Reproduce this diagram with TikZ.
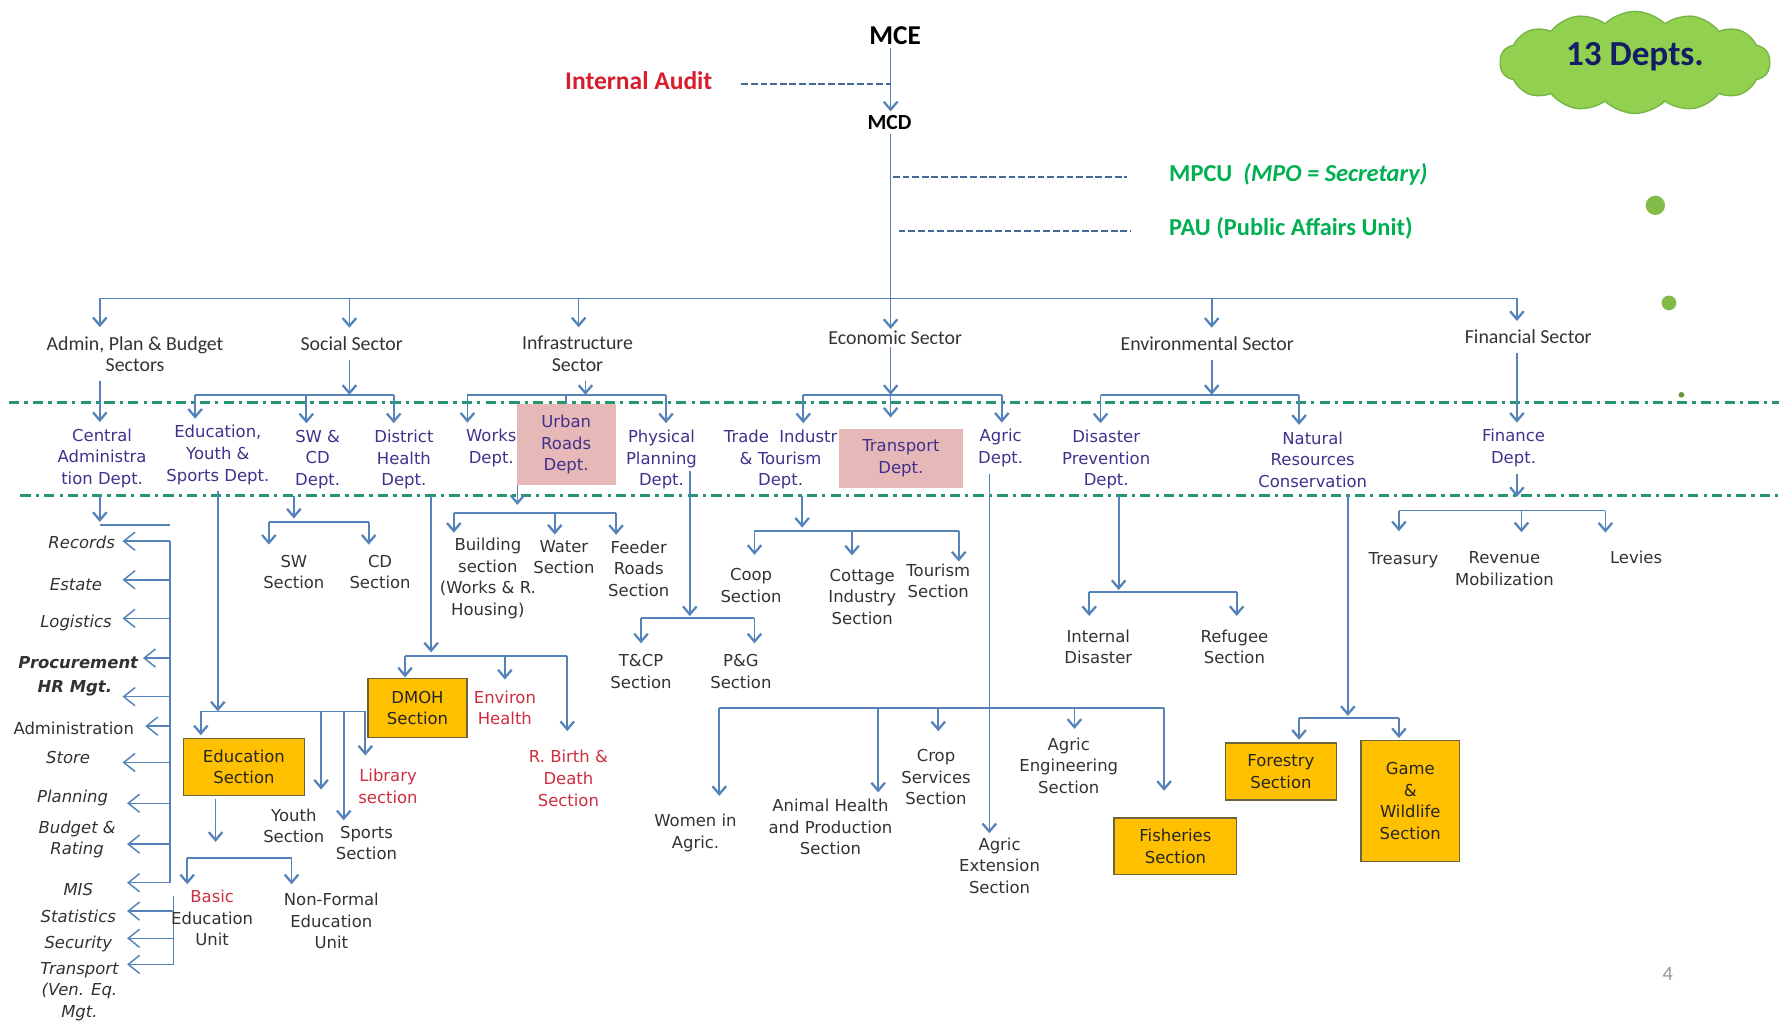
\documentclass[tikz,border=0pt]{standalone}
\usepackage{fontspec}
\setmainfont{Carlito}
\newfontfamily\lblfont{DejaVu Sans}
\usetikzlibrary{arrows.meta,shapes.symbols}
\definecolor{lineblue}{RGB}{84,130,185}
\definecolor{dashblue}{RGB}{70,105,150}
\definecolor{deptblue}{RGB}{64,49,140}
\definecolor{labelgray}{RGB}{50,50,50}
\definecolor{secred}{RGB}{205,45,65}
\definecolor{auditred}{RGB}{215,30,45}
\definecolor{mgreen}{RGB}{0,176,80}
\definecolor{sepgreen}{RGB}{38,150,110}
\definecolor{boxyellow}{RGB}{255,192,0}
\definecolor{boxedge}{RGB}{110,100,60}
\definecolor{boxpink}{RGB}{230,184,183}
\definecolor{cloudgreen}{RGB}{146,208,80}
\definecolor{cloudedge}{RGB}{120,180,70}
\definecolor{navy}{RGB}{20,30,100}
\newcommand\smallsz{\lblfont\fontsize{14.5}{19}\selectfont}
\tikzset{
  conn/.style={draw=lineblue,line width=1.5pt},
  arr/.style={conn,-{Straight Barb[length=7pt,width=12pt,line width=2pt]}},
  barb/.style={conn,line width=1.3pt,-{Straight Barb[length=10pt,width=16pt]}},
  lbl/.style={font=\smallsz,text=labelgray,align=center,inner sep=0pt,outer sep=5pt},
  dept/.style={lbl,text=deptblue,outer sep=6pt},
  redlbl/.style={lbl,text=secred},
  lst/.style={lbl,font=\smallsz\itshape},
  ybox/.style={lbl,fill=boxyellow,draw=boxedge,line width=1.2pt,text=black!85},
  pbox/.style={dept,fill=boxpink},
  sector/.style={font=\fontsize{17.5}{19}\selectfont,text=black!80,align=center,inner sep=0pt,outer sep=8pt},
  sepline/.style={draw=sepgreen,line width=2.6pt,dash pattern=on 9pt off 4.5pt on 3pt off 4.5pt},
  dashln/.style={draw=dashblue,line width=1.8pt,dash pattern=on 6pt off 2.5pt},
}
\begin{document}
\begin{tikzpicture}[x=1pt,y=-1pt]
\useasboundingbox (0,0) rectangle (1568,902);
% separators
\draw[sepline] (8,355) -- (1568,355);
\draw[sepline] (18,437) -- (1568,437);

% top of the chart
\node[font=\bfseries\fontsize{24}{24}\selectfont] (mce) at (789,31) {MCE};
\node[font=\bfseries\fontsize{19}{19}\selectfont] (mcd) at (784,108) {MCD};
\node[font=\bfseries\fontsize{22.5}{22}\selectfont,text=auditred] (audit) at (563,71) {Internal Audit};
\node[font=\bfseries\fontsize{21.5}{21}\selectfont,text=mgreen,anchor=west] (mpcu) at (1027,154) {MPCU\ \ \textit{(MPO = Secretary)}};
\node[font=\bfseries\fontsize{21.5}{21}\selectfont,text=mgreen,anchor=west] (pau) at (1027,201) {PAU (Public Affairs Unit)};
\draw[arr] (785,0 |- mce.south) -- (785,0 |- mcd.north);
\draw[dashln] ([xshift=22pt,yshift=-3pt]audit.east) -- (785,74);
\draw[dashln] (787,156) -- ([xshift=-34pt,yshift=-2pt]mpcu.west);
\draw[dashln] (792,204) -- ([xshift=-30pt,yshift=-3pt]pau.west);

\node[cloud,cloud puffs=14,cloud puff arc=90,aspect=2.7,minimum width=238pt,minimum height=90pt,fill=cloudgreen,draw=cloudedge,line width=1.2pt,font=\bfseries\fontsize{31}{31}\selectfont,text=navy] (depts) at (1441,55) {\raisebox{14pt}{13 Depts.}};
\node[circle,fill=cloudgreen!90!black,minimum size=17pt,inner sep=0pt] (dotA) at (1459,181) {};
\node[circle,fill=cloudgreen!90!black,minimum size=13pt,inner sep=0pt] (dotB) at (1471,267) {};
\node[circle,fill=cloudgreen!70!black,minimum size=5pt,inner sep=0pt] (dotC) at (1482,348) {};
\node[font=\fontsize{18}{18}\selectfont,text=black!40] (pgno) at (1470,858) {4};

% sectors
\node[sector] (adm) at (119,312) {Admin, Plan \& Budget\\Sectors};
\node[sector] (soc) at (310,303) {Social Sector};
\node[sector] (inf) at (509,312) {Infrastructure\\Sector};
\node[sector,outer sep=2pt] (econ) at (789,298) {Economic Sector};
\node[sector] (env) at (1064,303) {Environmental Sector};
\node[sector] (fin) at (1347,297) {Financial Sector};
\coordinate (topbus) at (0,263);
\draw[arr] (785,0 |- mcd.south) -- (785,0 |- econ.north);
\draw[conn] (88,0 |- topbus) -- (1337,0 |- topbus);
\foreach \x/\n in {88/adm,308/soc,510/inf,1068/env,1337/fin}
  \draw[arr] (\x,0 |- topbus) -- (\x,0 |- \n.north);

% departments
\node[dept] (cad) at (90,404) {Central\\Administra\\tion Dept.};
\node[dept] (edu) at (192,401) {Education,\\Youth \&\\Sports Dept.};
\node[dept] (swcd) at (280,405) {SW \&\\CD\\Dept.};
\node[dept] (dhd) at (356,405) {District\\Health\\Dept.};
\node[dept] (wrk) at (433,395) {Works\\Dept.};
\node[dept] (ppd) at (583,405) {Physical\\Planning\\Dept.};
\node[dept] (tit) at (688,405) {Trade\ \ Industr\\\& Tourism\\Dept.};
\node[dept] (agd) at (882,395) {Agric\\Dept.};
\node[dept] (dpd) at (975,405) {Disaster\\Prevention\\Dept.};
\node[dept] (nrc) at (1157,405) {Natural\\Resources\\Conservation};
\node[dept] (fnd) at (1334,395) {Finance\\Dept.};
\node[pbox,minimum width=87pt,minimum height=71pt,outer sep=0pt] (urd) at (499,392) {Urban\\Roads\\Dept.};
\node[pbox,minimum width=109pt,minimum height=52pt,outer sep=10pt] (trd) at (794,404) {Transport\\Dept.};

\coordinate (lv2) at (0,348);
\draw[arr] (88,0 |- adm.south) -- (88,0 |- cad.north);
\draw[arr] (308,0 |- soc.south) -- (308,0 |- lv2);
\draw[conn] (172,0 |- lv2) -- (347,0 |- lv2);
\foreach \x/\n in {172/edu,270/swcd,347/dhd}
  \draw[arr] (\x,0 |- lv2) -- (\x,0 |- \n.north);
\draw[arr] (516,0 |- inf.south) -- (516,0 |- lv2);
\draw[conn] (412,0 |- lv2) -- (587,0 |- lv2);
\draw[conn] (499,0 |- lv2) -- (urd.north);
\foreach \x/\n in {412/wrk,587/ppd}
  \draw[arr] (\x,0 |- lv2) -- (\x,0 |- \n.north);
\draw[arr] (785,0 |- econ.south) -- (785,0 |- lv2);
\draw[conn] (708,0 |- lv2) -- (883,0 |- lv2);
\foreach \x/\n in {708/tit,785/trd,883/agd}
  \draw[arr] (\x,0 |- lv2) -- (\x,0 |- \n.north);
\draw[arr] (1068,0 |- env.south) -- (1068,0 |- lv2);
\draw[conn] (970,0 |- lv2) -- (1145,0 |- lv2);
\foreach \x/\n in {970/dpd,1145/nrc}
  \draw[arr] (\x,0 |- lv2) -- (\x,0 |- \n.north);
\draw[arr] (1337,0 |- fin.south) -- (1337,0 |- fnd.north);

% central administration units
\node[lst] (rec) at (72,478) {Records};
\node[lst] (est) at (67,515) {Estate};
\node[lst] (logi) at (67,549) {Logistics};
\node[lst,font=\smallsz\bfseries\itshape] (proc) at (69,584) {Procurement};
\node[lst,font=\smallsz\bfseries\itshape] (hrm) at (66,607) {HR Mgt.};
\node[lbl] (adn) at (65,642) {Administration};
\node[lst] (sto) at (60,668) {Store};
\node[lst] (pln) at (64,703) {Planning};
\node[lst] (bud) at (68,740) {Budget \&\\Rating};
\node[lst] (mis) at (69,784) {MIS};
\node[lst] (sta) at (69,808) {Statistics};
\node[lst] (secu) at (69,832) {Security};
\node[lst] (trp) at (70,874) {Transport\\(Ven. Eq.\\Mgt.};
\draw[arr] (88,0 |- cad.south) -- (88,460);
\draw[conn] (88,463) -- (150,463);
\draw[conn] (150,477) -- (150,778);
\draw[conn] (153,790) -- (153,850);
\foreach \y/\t in {477/108,511/108,545/108,580/126,614/108,640/128,672/108,708/112,744/112,778/112}
  \draw[barb] (150,\y) -- (\t,\y);
\foreach \y in {803,827,850}
  \draw[barb] (153,\y) -- (112,\y);

% social sector units
\node[lbl,outer sep=9pt] (swsec) at (259,504) {SW\\Section};
\node[lbl,outer sep=9pt] (cdsec) at (335,504) {CD\\Section};
\draw[arr] (259,0 |- swcd.south) -- (259,457);
\draw[conn] (237,460) -- (325,460);
\foreach \x/\n in {237/swsec,325/cdsec}
  \draw[arr] (\x,460) -- (\x,0 |- \n.north);

\node[ybox,minimum width=107pt,minimum height=50pt,outer sep=3pt] (esec) at (215,676) {Education\\Section};
\node[lbl,outer sep=17pt] (youth) at (259,728) {Youth\\Section};
\node[lbl,outer sep=5pt] (sport) at (323,743) {Sports\\Section};
\node[redlbl,outer sep=12pt] (lib) at (342,693) {Library\\section};
\node[lbl,outer sep=5pt] (beu) at (187,809) {{\color{secred}Basic}\\Education\\Unit};
\node[lbl,outer sep=8pt] (nfe) at (292,812) {Non-Formal\\Education\\Unit};
\draw[arr] (192,0 |- edu.south) -- (192,627);
\draw[conn] (177,627) -- (322,627);
\foreach \x/\n in {177/esec,283/youth,303/sport,322/lib}
  \draw[arr] (\x,627) -- (\x,0 |- \n.north);
\draw[arr] (190,0 |- esec.south) -- (190,742);
\draw[conn] (165,756) -- (257,756);
\foreach \x/\n in {165/beu,257/nfe}
  \draw[arr] (\x,756) -- (\x,0 |- \n.north);

\node[ybox,minimum width=87pt,minimum height=52pt,outer sep=1pt] (dmoh) at (368,624) {DMOH\\Section};
\node[redlbl,outer sep=10pt] (envh) at (445,624) {Environ\\Health};
\node[redlbl,outer sep=17pt] (rbd) at (501,686) {R. Birth \&\\Death\\Section};
\draw[arr] (380,0 |- dhd.south) -- (380,575);
\draw[conn] (357,578) -- (500,578);
\foreach \x/\n in {357/dmoh,445/envh,500/rbd}
  \draw[arr] (\x,578) -- (\x,0 |- \n.north);

% infrastructure units
\node[lbl] (bldg) at (430,510) {Building\\section\\(Works \& R.\\Housing)};
\node[lbl] (wat) at (497,491) {Water\\Section};
\node[lbl] (fdr) at (563,501) {Feeder\\Roads\\Section};
\draw[arr] (456,0 |- urd.south) -- (456,445);
\draw[conn] (400,452) -- (543,452);
\foreach \x/\n in {400/bldg,489/wat,543/fdr}
  \draw[arr] (\x,452) -- (\x,0 |- \n.north);

\node[lbl,outer sep=10pt] (tcp) at (565,592) {T\&CP\\Section};
\node[lbl,outer sep=10pt] (pg) at (653,592) {P\&G\\Section};
\draw[arr] (608,415) -- (608,543);
\draw[conn] (565,545) -- (665,545);
\foreach \x/\n in {565/tcp,665/pg}
  \draw[arr] (\x,545) -- (\x,0 |- \n.north);

% economic units
\node[lbl,outer sep=12pt] (coop) at (662,516) {Coop\\Section};
\node[lbl,outer sep=12pt] (cot) at (760,526) {Cottage\\Industry\\Section};
\node[lbl,outer sep=2pt] (tour) at (827,512) {Tourism\\Section};
\draw[arr] (707,0 |- tit.south) -- (707,465);
\draw[conn] (665,468) -- (845,468);
\foreach \x/\n in {665/coop,751/cot,845/tour}
  \draw[arr] (\x,468) -- (\x,0 |- \n.north);

\node[lbl,outer sep=16pt] (wom) at (613,734) {Women in\\Agric.};
\node[lbl,outer sep=6pt] (anh) at (732,729) {Animal Health\\and Production\\Section};
\node[lbl,outer sep=16pt] (crop) at (825,685) {Crop\\Services\\Section};
\node[lbl,outer sep=8pt] (aeng) at (942,675) {Agric\\Engineering\\Section};
\node[lbl,outer sep=4pt] (aext) at (881,763) {Agric\\Extension\\Section};
\node[ybox,minimum width=108pt,minimum height=50pt,outer sep=24pt] (fish) at (1036,746) {Fisheries\\Section};
\draw[arr] (872,0 |- agd.south) -- (872,0 |- aext.north);
\draw[conn] (634,624) -- (1026,624);
\foreach \x/\n in {634/wom,774/anh,827/crop,947/aeng,1026/fish}
  \draw[arr] (\x,624) -- (\x,0 |- \n.north);

% environmental units
\node[lbl,outer sep=12pt] (idis) at (968,570) {Internal\\Disaster};
\node[lbl,outer sep=12pt] (ref) at (1088,570) {Refugee\\Section};
\draw[arr] (986,0 |- dpd.south) -- (986,520);
\draw[conn] (960,522) -- (1090,522);
\foreach \x/\n in {960/idis,1090/ref}
  \draw[arr] (\x,522) -- (\x,0 |- \n.north);

\node[ybox,minimum width=98pt,minimum height=50pt,outer sep=3pt] (forest) at (1129,680) {Forestry\\Section};
\node[ybox,minimum width=87pt,minimum height=107pt,outer sep=2pt] (game) at (1243,706) {Game\\\&\\Wildlife\\Section};
\draw[arr] (1188,0 |- nrc.south) -- (1188,631);
\draw[conn] (1145,633) -- (1233,633);
\foreach \x/\n in {1145/forest,1233/game}
  \draw[arr] (\x,633) -- (\x,0 |- \n.north);

% financial units
\node[lbl,outer sep=19pt] (tre) at (1237,494) {Treasury};
\node[lbl,outer sep=17pt] (rev) at (1326,501) {Revenue\\Mobilization};
\node[lbl,outer sep=16pt] (lev) at (1442,491) {Levies};
\draw[arr] (1337,0 |- fnd.south) -- (1337,438);
\draw[conn] (1233,450) -- (1415,450);
\foreach \x/\n in {1233/tre,1341/rev,1415/lev}
  \draw[arr] (\x,450) -- (\x,0 |- \n.north);
\end{tikzpicture}
\end{document}
